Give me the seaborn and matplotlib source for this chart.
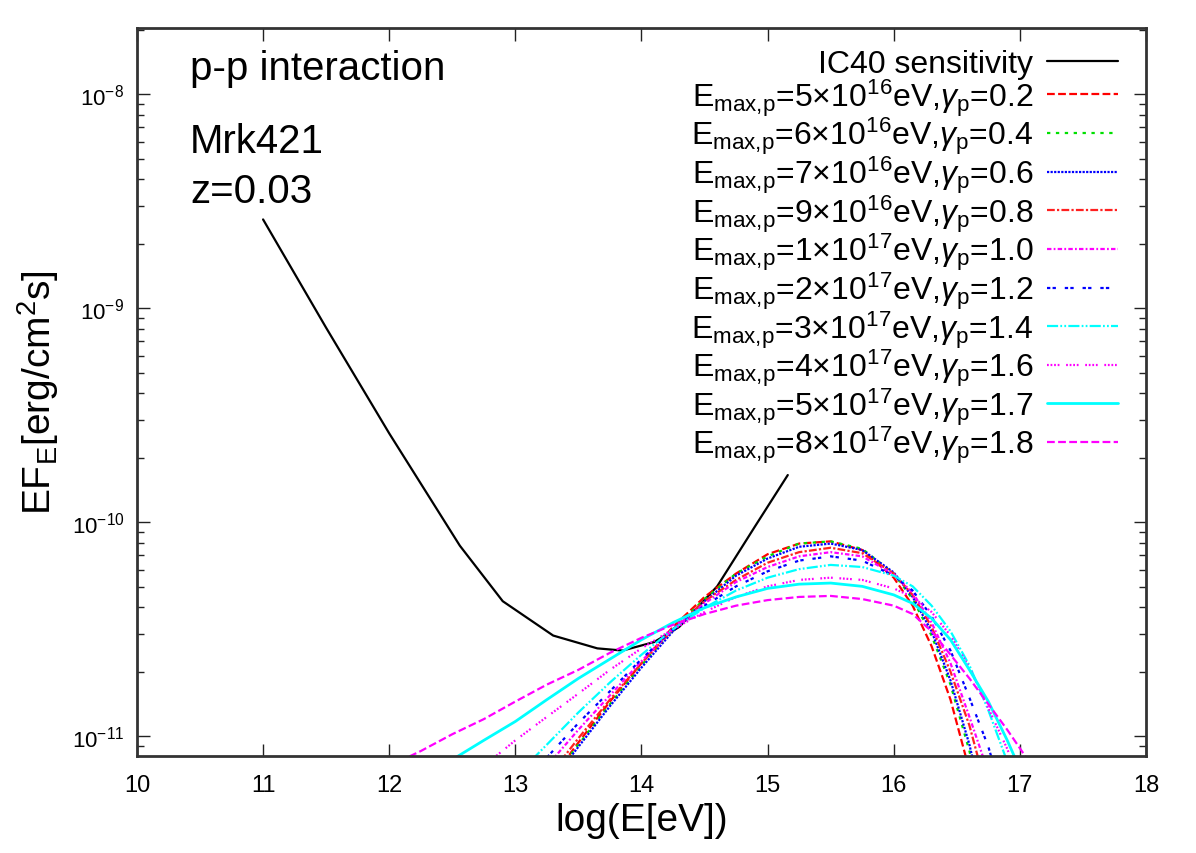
import matplotlib
matplotlib.use("Agg")
import matplotlib.pyplot as plt
import seaborn as sns
from matplotlib.ticker import NullFormatter

# IC40 sensitivity curve, log10(E/eV) and E*F_E in erg/cm^2/s
sens_log_e = [11.0, 11.5, 12.0, 12.56, 12.9, 13.3, 13.65, 13.85, 14.1, 14.3, 14.6, 14.9, 15.16]
sens_flux = [2.6e-9, 8.1e-10, 2.6e-10, 7.76e-11, 4.27e-11, 2.95e-11, 2.57e-11,
             2.51e-11, 2.75e-11, 3.24e-11, 5.01e-11, 9.55e-11, 1.66e-10]

# common energy grid for the p-p model curves
log_e = [12.0, 12.25, 12.5, 12.75, 13.0, 13.25, 13.5, 13.75, 14.0, 14.25, 14.5, 14.75,
         15.0, 15.25, 15.5, 15.75, 16.0, 16.15, 16.3, 16.45, 16.6, 16.75, 16.9, 17.05, 17.2]

flux_g02 = [5.0e-13, 7.9e-13, 1.32e-12, 2.24e-12, 3.72e-12, 5.89e-12, 9.33e-12, 1.45e-11,
            2.19e-11, 3.24e-11, 4.47e-11, 5.75e-11, 7.08e-11, 7.94e-11, 8.13e-11, 7.41e-11,
            5.50e-11, 4.07e-11, 2.63e-11, 1.48e-11, 6.92e-12, 2.69e-12, 7.9e-13, 2.0e-13, 5.0e-14]
flux_g04 = [5.2e-13, 8.3e-13, 1.38e-12, 2.29e-12, 3.72e-12, 5.89e-12, 9.12e-12, 1.41e-11,
            2.14e-11, 3.16e-11, 4.37e-11, 5.75e-11, 6.92e-11, 7.94e-11, 8.13e-11, 7.5e-11,
            5.75e-11, 4.37e-11, 2.95e-11, 1.74e-11, 8.51e-12, 3.55e-12, 1.12e-12, 3.2e-13, 7.9e-14]
flux_g06 = [5.6e-13, 8.7e-13, 1.41e-12, 2.29e-12, 3.63e-12, 5.75e-12, 8.91e-12, 1.38e-11,
            2.09e-11, 3.09e-11, 4.27e-11, 5.62e-11, 6.76e-11, 7.67e-11, 7.94e-11, 7.41e-11,
            5.82e-11, 4.47e-11, 3.09e-11, 1.82e-11, 9.12e-12, 3.80e-12, 1.26e-12, 3.5e-13, 1.0e-13]
flux_g08 = [5.6e-13, 9.3e-13, 1.51e-12, 2.45e-12, 3.98e-12, 6.31e-12, 9.77e-12, 1.48e-11,
            2.19e-11, 3.16e-11, 4.27e-11, 5.37e-11, 6.46e-11, 7.24e-11, 7.59e-11, 7.16e-11,
            5.75e-11, 4.57e-11, 3.24e-11, 2.00e-11, 1.12e-11, 5.25e-12, 1.78e-12, 5.6e-13, 1.6e-13]
flux_g10 = [7.6e-13, 1.20e-12, 1.91e-12, 3.02e-12, 4.68e-12, 7.24e-12, 1.07e-11, 1.55e-11,
            2.24e-11, 3.16e-11, 4.17e-11, 5.25e-11, 6.17e-11, 6.92e-11, 7.24e-11, 6.92e-11,
            5.69e-11, 4.68e-11, 3.39e-11, 2.19e-11, 1.23e-11, 6.76e-12, 2.82e-12, 1.0e-12, 3.2e-13]
flux_g12 = [9.3e-13, 1.45e-12, 2.24e-12, 3.47e-12, 5.25e-12, 7.94e-12, 1.15e-11, 1.62e-11,
            2.29e-11, 3.16e-11, 4.07e-11, 5.01e-11, 5.89e-11, 6.61e-11, 6.92e-11, 6.61e-11,
            5.62e-11, 4.79e-11, 3.63e-11, 2.51e-11, 1.51e-11, 8.91e-12, 4.47e-12, 1.91e-12, 7.1e-13]
flux_g14 = [1.41e-12, 2.09e-12, 3.09e-12, 4.47e-12, 6.46e-12, 9.12e-12, 1.29e-11, 1.78e-11,
            2.40e-11, 3.16e-11, 3.98e-11, 4.79e-11, 5.50e-11, 6.03e-11, 6.31e-11, 6.17e-11,
            5.62e-11, 5.01e-11, 4.07e-11, 3.09e-11, 2.14e-11, 1.32e-11, 7.59e-12, 3.80e-12, 1.66e-12]
flux_g16 = [3.02e-12, 4.07e-12, 5.50e-12, 7.24e-12, 9.55e-12, 1.23e-11, 1.58e-11, 2.04e-11,
            2.57e-11, 3.16e-11, 3.80e-11, 4.47e-11, 5.01e-11, 5.37e-11, 5.50e-11, 5.37e-11,
            4.90e-11, 4.47e-11, 3.80e-11, 2.95e-11, 2.09e-11, 1.35e-11, 8.71e-12, 5.01e-12, 2.51e-12]
flux_g17 = [4.68e-12, 6.03e-12, 7.76e-12, 9.55e-12, 1.17e-11, 1.48e-11, 1.86e-11, 2.29e-11,
            2.82e-11, 3.39e-11, 3.98e-11, 4.47e-11, 4.90e-11, 5.13e-11, 5.19e-11, 5.01e-11,
            4.57e-11, 4.17e-11, 3.55e-11, 2.82e-11, 2.04e-11, 1.45e-11, 9.55e-12, 6.03e-12, 3.16e-12]
flux_g18 = [7.24e-12, 8.51e-12, 1.02e-11, 1.20e-11, 1.45e-11, 1.74e-11, 2.04e-11, 2.45e-11,
            2.88e-11, 3.31e-11, 3.72e-11, 4.07e-11, 4.32e-11, 4.47e-11, 4.52e-11, 4.37e-11,
            4.07e-11, 3.72e-11, 3.09e-11, 2.40e-11, 1.86e-11, 1.41e-11, 1.07e-11, 7.94e-12, 5.01e-12]

e_max_mant = ["5", "6", "7", "9", "1", "2", "3", "4", "5", "8"]
e_max_exp = ["16", "16", "16", "16", "17", "17", "17", "17", "17", "17"]
gamma_p = ["0.2", "0.4", "0.6", "0.8", "1.0", "1.2", "1.4", "1.6", "1.7", "1.8"]

model_flux = [flux_g02, flux_g04, flux_g06, flux_g08, flux_g10,
              flux_g12, flux_g14, flux_g16, flux_g17, flux_g18]

line_colors = ["#ff0000", "#00e000", "#0000ff", "#ff2020", "#ff00ff",
               "#0000ff", "#00ffff", "#ff00ff", "#00ffff", "#ff00ff"]
line_styles = [(0, (3.5, 1.5)), (0, (1.5, 2.5)), (0, (1, 0.6)), (0, (3.5, 1, 1, 1)),
               (0, (2, 1, 0.8, 1)), (0, (1.5, 1, 1.5, 4)), (0, (5, 1, 0.8, 1, 0.8, 1)),
               (0, (0.8, 0.8, 0.8, 0.8, 0.8, 0.8, 0.8, 3)), "-", (0, (3.5, 1.5))]
line_widths = [1.6, 1.6, 1.6, 1.6, 1.6, 1.6, 1.6, 1.6, 2.0, 1.6]

sns.set_style("ticks")
plt.rcParams["font.family"] = ["Liberation Sans", "DejaVu Sans"]
plt.rcParams["mathtext.fontset"] = "custom"
plt.rcParams["mathtext.rm"] = "Liberation Sans"
plt.rcParams["mathtext.it"] = "Liberation Sans:italic"
plt.rcParams["mathtext.bf"] = "Liberation Sans:bold"
plt.rcParams["mathtext.sf"] = "Liberation Sans"
plt.rcParams["axes.unicode_minus"] = False
for key in ["text.color", "axes.labelcolor", "xtick.labelcolor", "ytick.labelcolor"]:
    plt.rcParams[key] = "black"

fig = plt.figure(figsize=(11.96, 8.54), dpi=100)
ax = fig.add_axes([0.1145, 0.1136, 0.8437, 0.8524])

sns.lineplot(x=sens_log_e, y=sens_flux, color="black", lw=1.6,
             label="IC40 sensitivity", ax=ax)

for flux, mant, ex, g, col, ls, lw in zip(model_flux, e_max_mant, e_max_exp, gamma_p,
                                          line_colors, line_styles, line_widths):
    lab = (r"E$_{\mathrm{max{,}p}}$=" + mant + r"$\times$10$^{" + ex + r"}$eV,"
           r"$\gamma_{\mathrm{p}}$=" + g)
    sns.lineplot(x=log_e, y=flux, color=col, linestyle=ls, lw=lw, label=lab, ax=ax)

ax.set_yscale("log")
ax.set_xlim(10, 18)
ax.set_ylim(8.07e-12, 2.04e-8)
ax.set_xticks(range(10, 19))
ax.yaxis.set_minor_formatter(NullFormatter())

ax.tick_params(which="both", direction="in", top=True, right=True, width=1, color="#222222")
ax.tick_params(which="major", length=9)
ax.tick_params(which="minor", length=5)
ax.tick_params(axis="x", labelsize=17, pad=13)
ax.tick_params(axis="y", labelsize=16, pad=9)
for sp in ax.spines.values():
    sp.set_linewidth(2)
    sp.set_color("#333333")

ax.set_xlabel("log(E[eV])", fontsize=28, labelpad=4)
ax.set_ylabel(r"EF$_{\mathrm{E}}$[erg/cm$^{2}$s]", fontsize=28, labelpad=8)

ax.text(0.0525, 0.930, "p-p interaction", transform=ax.transAxes, fontsize=29, va="baseline")
ax.text(0.0525, 0.830, "Mrk421", transform=ax.transAxes, fontsize=29, va="baseline")
ax.text(0.0525, 0.761, "z=0.03", transform=ax.transAxes, fontsize=29, va="baseline")

ax.legend(loc="upper right", bbox_to_anchor=(0.972, 0.971), frameon=False,
          markerfirst=False, fontsize=23, handlelength=2.2, handletextpad=0.45,
          labelspacing=-0.09, borderpad=0, borderaxespad=0)

fig.savefig("out.png", dpi=100)
